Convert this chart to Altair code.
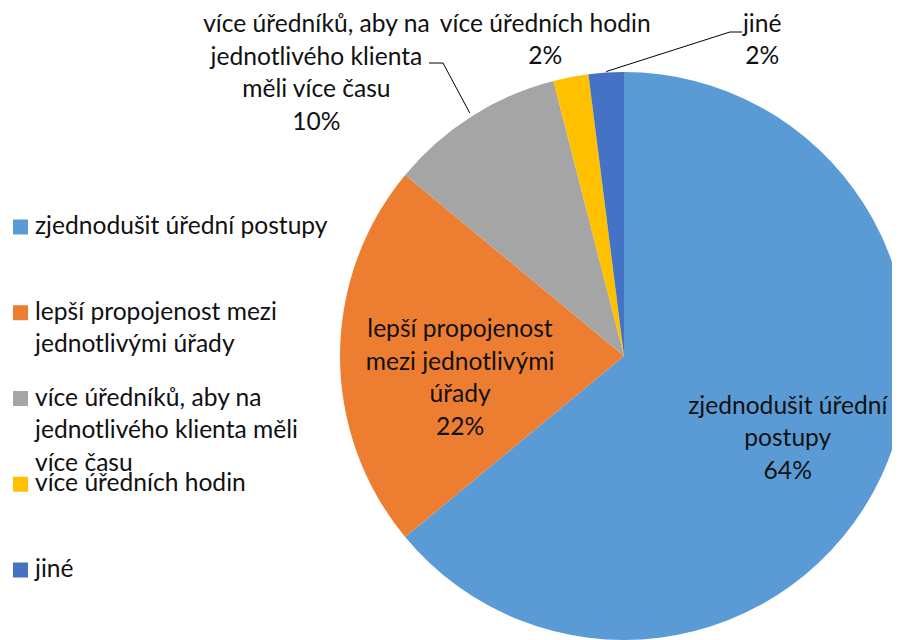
import math
import altair as alt
import pandas as pd

# ---- data ----
categories = [
    "zjednodušit úřední postupy",
    "lepší propojenost mezi jednotlivými úřady",
    "více úředníků, aby na jednotlivého klienta měli více času",
    "více úředních hodin",
    "jiné",
]
shares = [64, 22, 10, 2, 2]
colors = ["#5B9BD5", "#ED7D31", "#A5A5A5", "#FFC000", "#4472C4"]
legend_text = [
    "zjednodušit úřední postupy",
    "lepší propojenost mezi\njednotlivými úřady",
    "více úředníků, aby na\njednotlivého klienta měli\nvíce času",
    "více úředních hodin",
    "jiné",
]
slice_names = [
    "zjednodušit úřední\npostupy",
    "lepší propojenost\nmezi jednotlivými\núřady",
    "více úředníků, aby na\njednotlivého klienta\nměli více času",
    "více úředních hodin",
    "jiné",
]

# ---- layout / style ----
W, H = 884, 632
CX, CY = 616, 348
R = 284
FONT = "Lato"
FS = 24.6
LH = 32.5
TXT = "#111111"

df = pd.DataFrame({
    "category": categories,
    "share": shares,
    "order": list(range(len(categories))),
    "legend": legend_text,
    "label": [f"{n}\n{s}%" for n, s in zip(slice_names, shares)],
})

th = alt.Scale(domain=[0, 100], range=[0, 2 * math.pi])
col = alt.Color("category:N", scale=alt.Scale(domain=categories, range=colors), legend=None)

base = alt.Chart(df).transform_window(
    cum="sum(share)", sort=[alt.SortField("order")], frame=[None, 0]
).transform_calculate(
    start="datum.cum - datum.share", mid="datum.cum - datum.share / 2"
)

arcs = base.mark_arc(outerRadius=R).encode(
    theta=alt.Theta("start:Q", scale=th, stack=None),
    theta2="cum:Q",
    color=col,
    x=alt.value(CX), y=alt.value(CY),
)

# label placement per slice: (radius, dx, dy)
placement = [(150, 28, -13), (164, 0, -26), (380, -104, -10), (335, -16, -2), (332, 159, 0)]
label_layers = []
for i, (rad, dx, dy) in enumerate(placement):
    label_layers.append(
        base.transform_filter(f"datum.order == {i}").mark_text(
            radius=rad, dx=dx, dy=dy, lineBreak="\n", align="center", baseline="middle",
            font=FONT, fontSize=FS, lineHeight=LH, color=TXT,
        ).encode(
            theta=alt.Theta("mid:Q", scale=th, stack=None),
            text="label:N",
            x=alt.value(CX), y=alt.value(CY),
        )
    )

# leader lines (anchor derived from slice mid-angle)
cum = 0
mids = []
for s in shares:
    mids.append(cum + s / 2)
    cum += s

def anchor(i, r):
    a = 2 * math.pi * mids[i] / 100
    return CX + r * math.sin(a), CY - r * math.cos(a)

one = pd.DataFrame({"k": [0]})
leaders = []
gx, gy = anchor(2, R + 4)
jx, jy = anchor(4, R + 1)
for (x1, y1, x2, y2) in [(gx, gy, 435, 55), (435, 55, 421, 55), (jx, jy, 722, 24), (722, 24, 734, 24)]:
    leaders.append(
        alt.Chart(one).mark_rule(color="#000000", strokeWidth=1).encode(
            x=alt.value(x1), y=alt.value(y1), x2=alt.value(x2), y2=alt.value(y2)
        )
    )

ly = alt.Y("order:Q", scale=alt.Scale(domain=[0, 4], range=[219, 562]), axis=None)
leg_sq = base.mark_square(size=225, opacity=1).encode(x=alt.value(12.5), y=ly, color=col)
leg_tx = base.mark_text(
    align="left", baseline="middle", lineBreak="\n", font=FONT, fontSize=FS, lineHeight=LH, color=TXT
).encode(x=alt.value(27), y=ly, text="legend:N")

chart = alt.layer(arcs, *label_layers, *leaders, leg_sq, leg_tx).properties(
    width=W, height=H, autosize=alt.AutoSizeParams(type="none"), padding=0
).configure_view(stroke=None)

chart.save("out.html", embed_options={"renderer": "svg", "actions": False})
